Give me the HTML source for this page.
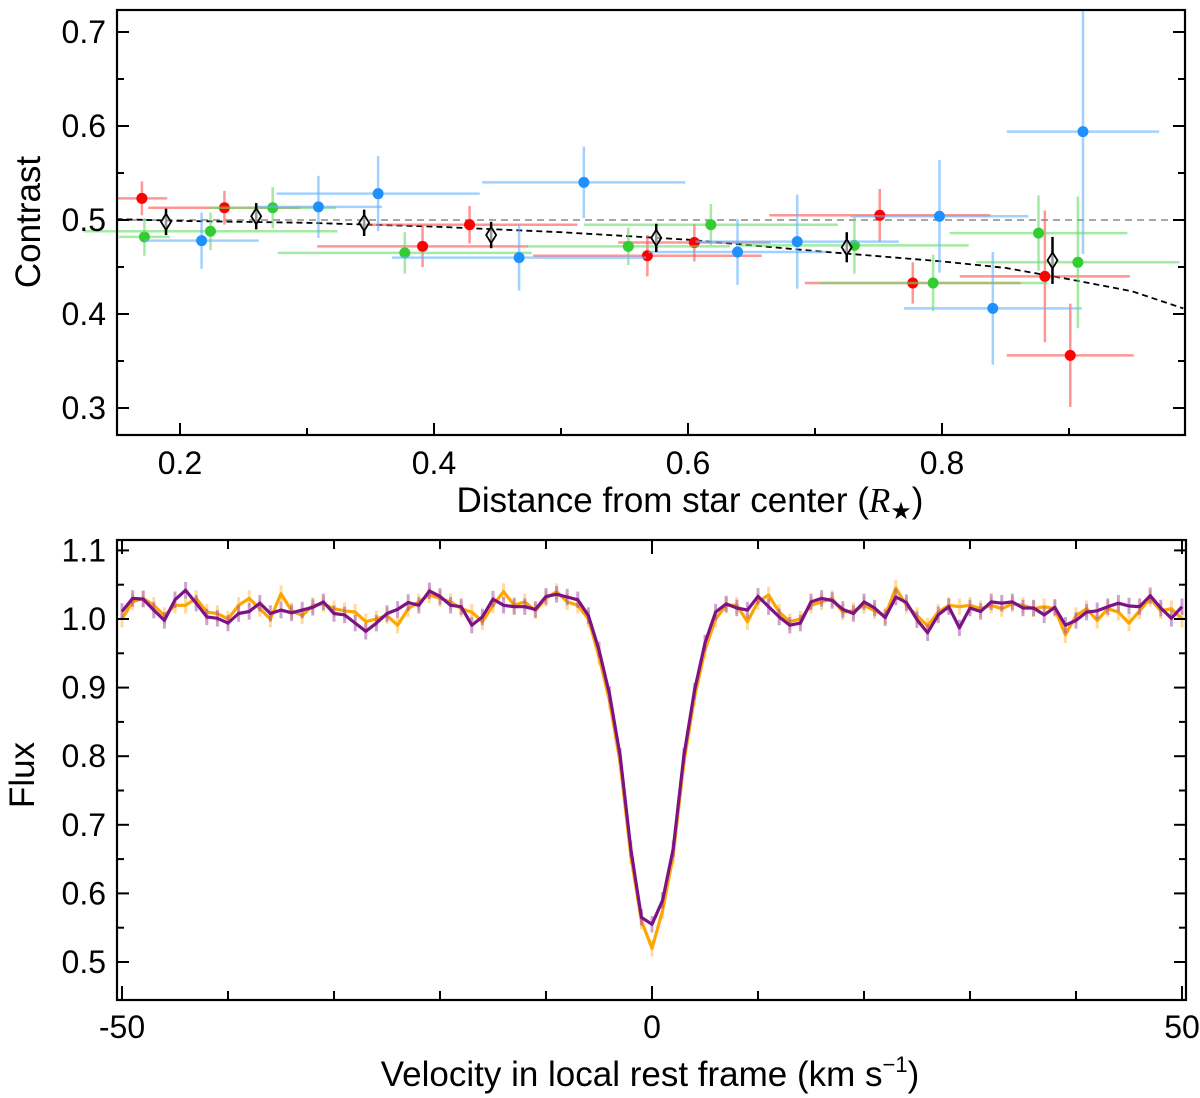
<!DOCTYPE html>
<html><head><meta charset="utf-8"><style>
html,body{margin:0;padding:0;background:#fff;}
svg{display:block;font-family:"Liberation Sans",Arial,sans-serif;}
</style></head><body>
<svg id="fig" width="1200" height="1098" viewBox="0 0 1200 1098" xmlns="http://www.w3.org/2000/svg">
<g id="topPanel"></g>
<g id="botPanel"></g>
<text x="40" y="222" font-size="35" text-anchor="middle" transform="rotate(-90 40 222)">Contrast</text>
<text x="690" y="512" font-size="35" text-anchor="middle">Distance from star center (<tspan font-style="italic" font-family="Liberation Serif">R</tspan><tspan font-size="24" dy="7">★</tspan><tspan dy="-7">)</tspan></text>
<text x="34" y="775" font-size="35" text-anchor="middle" transform="rotate(-90 34 775)">Flux</text>
<text x="650" y="1086" font-size="35" text-anchor="middle">Velocity in local rest frame (km s<tspan font-size="22" dy="-14">−1</tspan><tspan dy="14">)</tspan></text>
</svg>
<script>
// ---- top panel data ----
const redX=[0.170,0.235,0.428,0.391,0.568,0.605,0.751,0.777,0.881,0.901];
const redY=[0.523,0.513,0.495,0.472,0.462,0.476,0.505,0.433,0.440,0.356];
const redXerr=[0.02,0.06,0.085,0.083,0.09,0.06,0.087,0.085,0.067,0.05];
const redYerr=[0.018,0.018,0.02,0.022,0.022,0.02,0.028,0.022,0.07,0.055];
const greenX=[0.172,0.224,0.273,0.377,0.553,0.618,0.731,0.793,0.876,0.907];
const greenY=[0.482,0.488,0.513,0.465,0.472,0.495,0.473,0.433,0.486,0.455];
const greenXerr=[0.02,0.1,0.05,0.1,0.08,0.1,0.09,0.09,0.07,0.08];
const greenYerr=[0.02,0.02,0.022,0.022,0.02,0.022,0.03,0.03,0.04,0.07];
const blueX=[0.217,0.309,0.356,0.467,0.518,0.639,0.686,0.798,0.840,0.911];
const blueY=[0.478,0.514,0.528,0.460,0.540,0.466,0.477,0.504,0.406,0.594];
const blueXerr=[0.045,0.05,0.08,0.1,0.08,0.07,0.08,0.07,0.07,0.06];
const blueYerr=[0.03,0.033,0.04,0.035,0.038,0.035,0.05,0.06,0.06,0.13];
const meanX=[0.189,0.260,0.345,0.445,0.575,0.725,0.887];
const meanY=[0.498,0.504,0.497,0.484,0.481,0.471,0.457];
const meanYerr=[0.014,0.014,0.014,0.014,0.015,0.016,0.025];
const modelR=[0.15,0.2,0.3,0.4,0.5,0.6,0.7,0.8,0.85,0.9,0.95,0.99];
const modelC=[0.501,0.499,0.497,0.493,0.487,0.479,0.467,0.456,0.449,0.437,0.424,0.406];
const topYTicks=[0.3,0.4,0.5,0.6,0.7];
const topYLabels=["0.3","0.4","0.5","0.6","0.7"];
const topXTicks=[0.2,0.4,0.6,0.8];
const topXLabels=["0.2","0.4","0.6","0.8"];
// ---- bottom panel data (v = -50..50 step 1) ----
const velStart=-50, velStep=1;
const fluxPurple=[1.011,1.030,1.029,1.013,0.998,1.028,1.042,1.023,1.003,1.001,0.994,1.008,1.011,1.023,1.008,1.013,1.009,1.013,1.017,1.025,1.008,1.006,0.994,0.982,0.994,1.008,1.014,1.024,1.020,1.041,1.033,1.020,1.018,0.991,1.003,1.029,1.020,1.018,1.018,1.014,1.033,1.036,1.032,
1.028,1.005,0.955,0.89,0.80,0.665,0.565,0.555,0.59,0.665,0.80,0.895,0.965,1.01,1.022,
1.016,1.013,1.033,1.018,1.003,0.991,0.994,1.025,1.030,1.027,1.014,1.008,1.025,1.016,1.002,1.032,1.024,0.999,0.980,1.006,1.018,0.987,1.016,1.011,1.025,1.023,1.025,1.016,1.016,1.006,1.017,0.991,0.998,1.010,1.012,1.018,1.023,1.019,1.018,1.034,1.016,1.001,1.018];
const fluxOrange=[1.000,1.025,1.030,1.020,1.005,1.020,1.020,1.030,1.010,1.008,1.000,1.020,1.030,1.015,1.000,1.037,1.012,1.005,1.020,1.022,1.015,1.012,1.010,0.996,1.000,1.005,0.991,1.015,1.025,1.035,1.030,1.025,1.015,1.010,0.996,1.020,1.040,1.020,1.025,1.012,1.030,1.040,1.025,
1.020,1.000,0.945,0.88,0.79,0.655,0.56,0.52,0.575,0.655,0.79,0.885,0.955,1.000,1.020,
1.020,0.996,1.025,1.035,1.010,0.996,1.000,1.020,1.025,1.030,1.010,1.012,1.020,1.012,1.005,1.045,1.020,1.005,0.990,1.010,1.020,1.018,1.020,1.015,1.020,1.015,1.022,1.020,1.015,1.018,1.015,0.977,1.005,1.015,0.998,1.015,1.010,0.994,1.012,1.030,1.012,1.015,1.000];
const fluxErr=0.012;
const botYTicks=[0.5,0.6,0.7,0.8,0.9,1.0,1.1];
const botYLabels=["0.5","0.6","0.7","0.8","0.9","1.0","1.1"];
const botXTicks=[-50,0,50];
const botXLabels=["-50","0","50"];

const NS="http://www.w3.org/2000/svg";
function mk(parent,tag,attrs){const e=document.createElementNS(NS,tag);for(const k in attrs)e.setAttribute(k,attrs[k]);parent.appendChild(e);return e;}

// top axes
const T={l:117,r:1185,t:10,b:435};
const tx=v=>180+(v-0.2)*1270;
const ty=v=>220-(v-0.5)*940;
const topG=document.getElementById('topPanel');
let el;
el=mk(topG,'line',{x1:T.l,x2:T.r,y1:ty(0.5),y2:ty(0.5),stroke:'#888','stroke-width':1.6,'stroke-dasharray':'7,5'});


const modelPts=modelR.map((r,i)=>tx(r).toFixed(1)+','+ty(modelC[i]).toFixed(1)).join(' ');
el=mk(topG,'polyline',{points:modelPts,fill:'none',stroke:'#000','stroke-width':1.8,'stroke-dasharray':'6,4'});


function series(name,X,Y,XE,YE,col,light){
  const g=mk(topG,'g',{});
  
  
  X.forEach((x,i)=>{
    const h=mk(g,'line',{x1:tx(x-XE[i]),x2:tx(x+XE[i]),y1:ty(Y[i]),y2:ty(Y[i]),stroke:light,'stroke-width':2.5,'stroke-opacity':0.6});
    
    
    const v=mk(g,'line',{x1:tx(x),x2:tx(x),y1:ty(Y[i]-YE[i]),y2:ty(Y[i]+YE[i]),stroke:light,'stroke-width':2.5,'stroke-opacity':0.6});
    
    
    const c=mk(g,'circle',{cx:tx(x),cy:ty(Y[i]),r:5.5,fill:col});
    
    
  });
}
series('red',redX,redY,redXerr,redYerr,'#ff0000','#ff5050');
series('green',greenX,greenY,greenXerr,greenYerr,'#33cc33','#66dd66');
series('blue',blueX,blueY,blueXerr,blueYerr,'#1e90ff','#66b3ff');
const mg=mk(topG,'g',{});


meanX.forEach((x,i)=>{
  const cx=tx(x),cy=ty(meanY[i]);
  const v=mk(mg,'line',{x1:cx,x2:cx,y1:ty(meanY[i]-meanYerr[i]),y2:ty(meanY[i]+meanYerr[i]),stroke:'#000','stroke-width':2.5});
  
  
  const d=mk(mg,'polygon',{points:`${cx},${cy-8} ${cx+5},${cy} ${cx},${cy+8} ${cx-5},${cy}`,fill:'#fff','fill-opacity':0.6,stroke:'#000','stroke-width':1.8});
  
  
});
function frame(g,B,name){
  const f=mk(g,'rect',{x:B.l,y:B.t,width:B.r-B.l,height:B.b-B.t,fill:'none',stroke:'#000','stroke-width':2.2});
  
  
}
frame(topG,T,'top-plot-frame');
for(let k=0;k<=9;k++){const v=0.3+k*0.05;const y=ty(v);if(y<T.t||y>T.b)continue;const L=(k%2==0)?12:7;
  const a=mk(topG,'line',{x1:T.l,x2:T.l+L,y1:y,y2:y,stroke:'#000','stroke-width':2});
  const b=mk(topG,'line',{x1:T.r,x2:T.r-L,y1:y,y2:y,stroke:'#000','stroke-width':2});}
for(let k=0;k<=8;k++){const v=0.2+k*0.1;const x=tx(v);if(x>T.r)continue;const L=(k%2==0)?12:7;
  const a=mk(topG,'line',{x1:x,x2:x,y1:T.b,y2:T.b-L,stroke:'#000','stroke-width':2});}
topYTicks.forEach((v,i)=>{const t=mk(topG,'text',{x:106,y:ty(v)+11,'font-size':32,'text-anchor':'end'});t.textContent=topYLabels[i];});
topXTicks.forEach((v,i)=>{const t=mk(topG,'text',{x:tx(v),y:474,'font-size':32,'text-anchor':'middle'});t.textContent=topXLabels[i];});

// bottom axes
const BB={l:117,r:1186,t:540,b:1000};
const bx=v=>652+v*10.6;
const by=f=>619-(f-1)*686;
const botG=document.getElementById('botPanel');
function fluxLine(F,col,err,name){
  const g=mk(botG,'g',{});
  
  
  F.forEach((f,i)=>{const v=velStart+i*velStep;
    const l=mk(g,'line',{x1:bx(v),x2:bx(v),y1:by(f-fluxErr),y2:by(f+fluxErr),stroke:err,'stroke-width':3,'stroke-opacity':0.55});
    
    });
  const p=F.map((f,i)=>bx(velStart+i*velStep).toFixed(1)+','+by(f).toFixed(1)).join(' ');
  const pl=mk(g,'polyline',{points:p,fill:'none',stroke:col,'stroke-width':3.2,'stroke-linejoin':'round'});
  
  
}
fluxLine(fluxOrange,'#ffa500','#ffbe4d','orange');
fluxLine(fluxPurple,'#7d1285','#a257a8','purple');
frame(botG,BB,'bottom-plot-frame');
for(let k=0;k<=12;k++){const v=0.5+k*0.05;const y=by(v);if(y<BB.t||y>BB.b)continue;const L=(k%2==0)?12:7;
  const a=mk(botG,'line',{x1:BB.l,x2:BB.l+L,y1:y,y2:y,stroke:'#000','stroke-width':2});
  const b=mk(botG,'line',{x1:BB.r,x2:BB.r-L,y1:y,y2:y,stroke:'#000','stroke-width':2});}
for(let k=0;k<=10;k++){const v=-50+k*10;const x=bx(v);const L=(v%50==0)?14:9;
  const a=mk(botG,'line',{x1:x,x2:x,y1:BB.b,y2:BB.b-L,stroke:'#000','stroke-width':2});
  const b=mk(botG,'line',{x1:x,x2:x,y1:BB.t,y2:BB.t+L,stroke:'#000','stroke-width':2});}
botYTicks.forEach((v,i)=>{const t=mk(botG,'text',{x:106,y:by(v)+11,'font-size':32,'text-anchor':'end'});t.textContent=botYLabels[i];});
botXTicks.forEach((v,i)=>{const t=mk(botG,'text',{x:bx(v),y:1038,'font-size':32,'text-anchor':'middle'});t.textContent=botXLabels[i];});
</script>
</body></html>
